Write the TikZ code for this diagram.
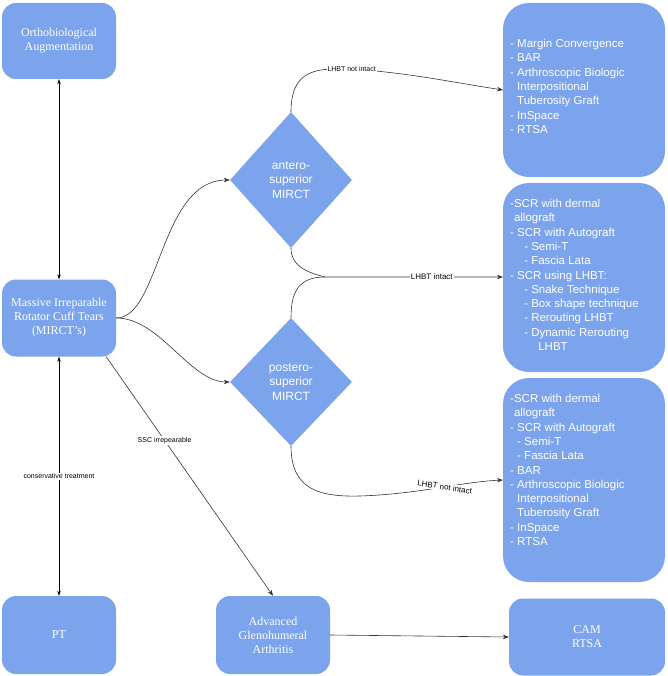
\documentclass[tikz,border=0pt]{standalone}
\usepackage{fontspec}
\setmainfont{Liberation Serif}
\newfontfamily\listfont{Liberation Sans}
\usetikzlibrary{shapes.geometric,arrows.meta}
\definecolor{boxblue}{RGB}{124,164,236}
\tikzset{
  box/.style={draw=none,fill=boxblue,rounded corners=14pt,text=white,align=center,font=\fontsize{12}{14}\selectfont},
  listbox/.style={draw=none,fill=boxblue,rounded corners=26pt,text=white,align=left,anchor=north west,font=\listfont\fontsize{11.5}{14.3}\selectfont,inner sep=0pt},
  choice/.style={diamond,fill=boxblue,text=white,align=center,inner sep=0pt,font=\listfont\fontsize{12}{14.3}\selectfont},
  link/.style={draw=black!80,line width=0.6pt,-{Stealth[length=6pt,width=4.5pt]}},
  twoway/.style={draw=black,line width=0.5pt,{Stealth[length=5pt,width=3.5pt]}-{Stealth[length=5pt,width=3.5pt]}},
  tag/.style={fill=white,inner sep=1pt,font=\listfont\fontsize{7}{8}\selectfont}
}
\begin{document}
\begin{tikzpicture}[x=1pt,y=1pt,yscale=-1]
\useasboundingbox (0,0) rectangle (667,676);

% Boxes
\node[box,minimum width=114pt,minimum height=76pt] (ortho) at (59,41) {Orthobiological\\Augmentation};
\node[box,minimum width=114pt,minimum height=77pt] (mirct) at (59,318) {Massive Irreparable\\Rotator Cuff Tears\\(MIRCT's)};
\node[box,minimum width=114pt,minimum height=78pt] (pt) at (59,635) {PT};
\node[box,minimum width=114pt,minimum height=78pt] (adv) at (273,635) {Advanced\\Glenohumeral\\Arthritis};
\node[box,minimum width=156pt,minimum height=77pt] (cam) at (587,637) {CAM\\RTSA};

% Diamonds
\node[choice,minimum width=122pt,minimum height=136pt] (ant) at (291,180) {antero-\\superior\\MIRCT};
\node[choice,minimum width=122pt,minimum height=128pt] (post) at (291,382) {postero-\\superior\\MIRCT};

% Lists
\path[fill=boxblue,rounded corners=26pt] (503,3) rectangle (665,177);
\path[fill=boxblue,rounded corners=26pt] (503,183) rectangle (665,372);
\path[fill=boxblue,rounded corners=26pt] (503,378) rectangle (665,582);
\node[listbox] (listA) at (510,39) {- Margin Convergence\\- BAR\\- Arthroscopic Biologic\\\hphantom{- }Interpositional\\\hphantom{- }Tuberosity Graft\\- InSpace\\- RTSA};
\node[listbox] (listB) at (510,199) {-SCR with dermal\\\hphantom{-}allograft\\- SCR with Autograft\\\hphantom{- - }- Semi-T\\\hphantom{- - }- Fascia Lata\\- SCR using LHBT:\\\hphantom{- - }- Snake Technique\\\hphantom{- - }- Box shape technique\\\hphantom{- - }- Rerouting LHBT\\\hphantom{- - }- Dynamic Rerouting\\\hphantom{- - - - }LHBT};
\node[listbox] (listC) at (510,394) {-SCR with dermal\\\hphantom{-}allograft\\- SCR with Autograft\\\hphantom{- }- Semi-T\\\hphantom{- }- Fascia Lata\\- BAR\\- Arthroscopic Biologic\\\hphantom{- }Interpositional\\\hphantom{- }Tuberosity Graft\\- InSpace\\- RTSA};
\coordinate (inA) at (503,90);
\coordinate (inB) at (503,277);
\coordinate (inC) at (503,480);
\coordinate (merge) at (325,277);

% Connectors
\draw[twoway] (mirct.north) -- (ortho.south);
\draw[twoway] (mirct.south) -- node[tag] {conservative treatment} (pt.north);
\draw[link] (mirct.south east) ++(-10,0) coordinate (ssc) -- node[tag,pos=0.35] {SSC irrepearable} (adv.north);
\draw[link] (mirct.east) .. controls (160,318) and (160,180) .. (ant.west);
\draw[link] (mirct.east) .. controls (160,318) and (190,382) .. (post.west);
\draw[link] (ant.north) .. controls (291,80) and (305,69) .. (335,69) .. controls (390,69) and (450,82) .. node[tag,pos=0.1] {LHBT not intact} (inA);
\draw[draw=black!80,line width=0.6pt] (ant.south) .. controls (291,265) and (305,272) .. (merge);
\draw[link] (post.north) .. controls (291,290) and (300,277) .. (merge) -- node[tag,pos=0.6,font=\listfont\fontsize{8}{9}\selectfont] {LHBT intact} (inB);
\draw[link] (post.south) .. controls (291,490) and (320,497) .. (360,496) .. controls (420,494) and (460,482) .. node[tag,pos=0.55,sloped,font=\listfont\fontsize{8}{9}\selectfont] {LHBT not intact} (inC);
\draw[link] (adv.east) -- (cam.west);
\end{tikzpicture}
\end{document}
